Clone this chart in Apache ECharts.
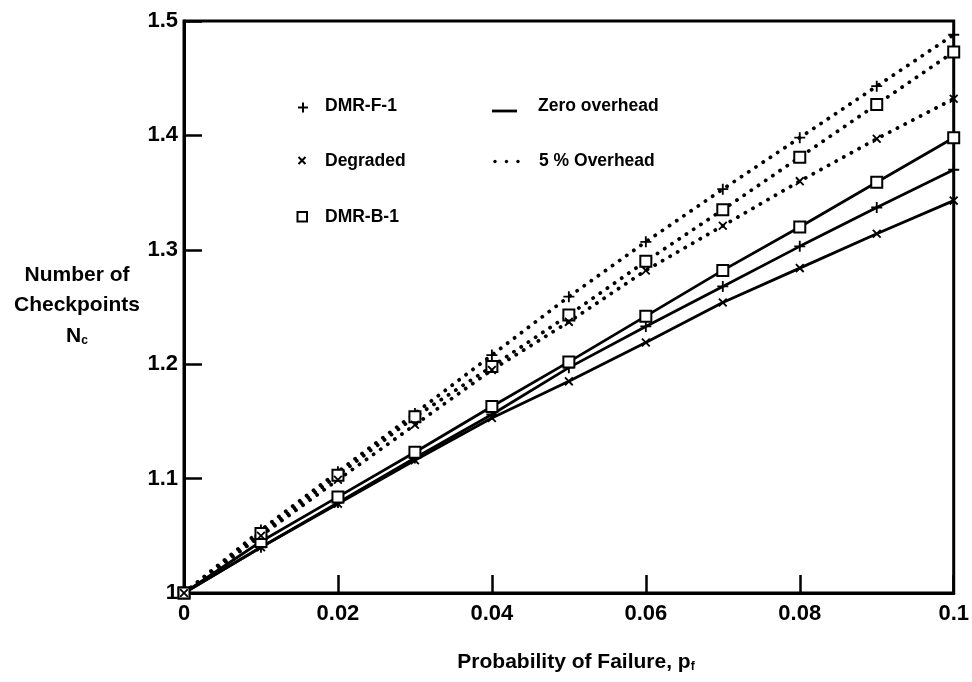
<!DOCTYPE html>
<html>
<head>
<meta charset="utf-8">
<script src="https://cdn.jsdelivr.net/npm/echarts@6/dist/echarts.min.js"></script>
<style>html,body{margin:0;padding:0;background:#fff;overflow:hidden}#c{width:972px;height:682px}</style>
</head>
<body>
<div id="c"></div>
<script>
// Probability of failure (x)
const xs = [0, 0.01, 0.02, 0.03, 0.04, 0.05, 0.06, 0.07, 0.08, 0.09, 0.1];
// Zero overhead (solid)
const fZero = [1, 1.040, 1.079, 1.118, 1.156, 1.197, 1.233, 1.268, 1.303, 1.337, 1.370];
const dZero = [1, 1.040, 1.078, 1.116, 1.153, 1.185, 1.219, 1.254, 1.284, 1.314, 1.343];
const bZero = [1, 1.045, 1.084, 1.123, 1.163, 1.202, 1.242, 1.282, 1.320, 1.359, 1.398];
// 5 % overhead (dotted)
const fFive = [1, 1.055, 1.106, 1.157, 1.208, 1.259, 1.307, 1.353, 1.398, 1.443, 1.488];
const bFive = [1, 1.052, 1.103, 1.154, 1.198, 1.243, 1.290, 1.335, 1.381, 1.427, 1.473];
const dFive = [1, 1.050, 1.099, 1.147, 1.195, 1.237, 1.282, 1.321, 1.360, 1.397, 1.432];
const xTicks = [0, 0.02, 0.04, 0.06, 0.08, 0.1];
const yTicks = [1, 1.1, 1.2, 1.3, 1.4, 1.5];

const SANS = "'Liberation Sans',Arial,sans-serif";
const PLUS = 'path://M-1,-6 L1,-6 L1,-1 L6,-1 L6,1 L1,1 L1,6 L-1,6 L-1,1 L-6,1 L-6,-1 L-1,-1 Z';

function pts(ys) { return xs.map((x, i) => [x, ys[i]]); }

function mk(name, ys, marker, dotted) {
  const s = {
    name: name, type: 'line', data: pts(ys), showSymbol: true, animation: false,
    lineStyle: dotted ? { color: '#000', width: 3.8, type: [0.1, 8.6], cap: 'round' }
                      : { color: '#000', width: 2.8 },
    itemStyle: { color: '#000' }
  };
  if (marker === 'plus') { s.symbol = PLUS; s.symbolSize = 11; }
  else if (marker === 'x') { s.symbol = PLUS; s.symbolSize = 11; s.symbolRotate = 45; }
  else { s.symbol = 'rect'; s.symbolSize = 11; s.itemStyle = { color: '#fff', borderColor: '#000', borderWidth: 2 }; }
  return s;
}

const chart = echarts.init(document.getElementById('c'), null, { renderer: 'canvas', width: 972, height: 682 });
chart.setOption({
  backgroundColor: '#fff',
  animation: false,
  grid: { left: 184, right: 12, top: 21, bottom: 89, show: true, borderColor: '#000', borderWidth: 3, backgroundColor: 'transparent' },
  xAxis: {
    type: 'value', min: 0, max: 0.1, interval: 0.02,
    axisLine: { show: true, lineStyle: { color: '#000', width: 3 } },
    axisTick: { show: true, inside: true, length: 18, lineStyle: { color: '#000', width: 2.5 } },
    splitLine: { show: false },
    axisLabel: { color: '#000', fontFamily: SANS, fontWeight: 'bold', fontSize: 22, margin: 10,
      formatter: v => { const t = xTicks.find(k => Math.abs(k - v) < 1e-9); return t === undefined ? '' : String(t); } }
  },
  yAxis: {
    type: 'value', min: 1, max: 1.5, interval: 0.1,
    axisLine: { show: true, lineStyle: { color: '#000', width: 3 } },
    axisTick: { show: true, inside: true, length: 18, lineStyle: { color: '#000', width: 2.5 } },
    splitLine: { show: false },
    axisLabel: { color: '#000', fontFamily: SANS, fontWeight: 'bold', fontSize: 22, margin: 6,
      formatter: v => { const t = yTicks.find(k => Math.abs(k - v) < 1e-9); return t === undefined ? '' : String(t); } }
  },
  series: [
    mk('DMR-F-1 zero', fZero, 'plus', false),
    mk('Degraded zero', dZero, 'x', false),
    mk('DMR-B-1 zero', bZero, 'rect', false),
    mk('DMR-F-1 5%', fFive, 'plus', true),
    mk('DMR-B-1 5%', bFive, 'rect', true),
    mk('Degraded 5%', dFive, 'x', true)
  ],
  graphic: [
    // legend markers
    { type: 'line', shape: { x1: 298, y1: 107.5, x2: 308, y2: 107.5 }, style: { stroke: '#000', lineWidth: 2 } },
    { type: 'line', shape: { x1: 303, y1: 102.5, x2: 303, y2: 112.5 }, style: { stroke: '#000', lineWidth: 2 } },
    { type: 'line', shape: { x1: 298.5, y1: 157, x2: 305.5, y2: 164 }, style: { stroke: '#000', lineWidth: 2 } },
    { type: 'line', shape: { x1: 305.5, y1: 157, x2: 298.5, y2: 164 }, style: { stroke: '#000', lineWidth: 2 } },
    { type: 'rect', shape: { x: 297.5, y: 212, width: 9.5, height: 9.5 }, style: { fill: '#fff', stroke: '#000', lineWidth: 2 } },
    { type: 'line', shape: { x1: 492, y1: 111, x2: 517, y2: 111 }, style: { stroke: '#000', lineWidth: 2.8 } },
    { type: 'circle', shape: { cx: 495, cy: 161.5, r: 1.7 }, style: { fill: '#000' } },
    { type: 'circle', shape: { cx: 506.5, cy: 161.5, r: 1.7 }, style: { fill: '#000' } },
    { type: 'circle', shape: { cx: 518, cy: 161.5, r: 1.7 }, style: { fill: '#000' } },
    // legend texts
    { type: 'text', style: { x: 325, y: 106, text: 'DMR-F-1', fill: '#000', font: 'bold 17.5px ' + SANS, textVerticalAlign: 'middle' } },
    { type: 'text', style: { x: 325, y: 161, text: 'Degraded', fill: '#000', font: 'bold 17.5px ' + SANS, textVerticalAlign: 'middle' } },
    { type: 'text', style: { x: 325, y: 217, text: 'DMR-B-1', fill: '#000', font: 'bold 17.5px ' + SANS, textVerticalAlign: 'middle' } },
    { type: 'text', style: { x: 538, y: 106, text: 'Zero overhead', fill: '#000', font: 'bold 17.5px ' + SANS, textVerticalAlign: 'middle' } },
    { type: 'text', style: { x: 539, y: 161, text: '5 % Overhead', fill: '#000', font: 'bold 17.5px ' + SANS, textVerticalAlign: 'middle' } },
    // axis titles
    { type: 'text', style: { x: 77, y: 275, text: 'Number of', fill: '#000', font: 'bold 21px ' + SANS, textAlign: 'center', textVerticalAlign: 'middle' } },
    { type: 'text', style: { x: 77, y: 305, text: 'Checkpoints', fill: '#000', font: 'bold 21px ' + SANS, textAlign: 'center', textVerticalAlign: 'middle' } },
    { type: 'text', style: { x: 77, y: 336, text: 'N{s|c}', fill: '#000', font: 'bold 21px ' + SANS, textAlign: 'center', textVerticalAlign: 'middle',
        rich: { s: { fontSize: 12, fontWeight: 'bold', fontFamily: SANS, verticalAlign: 'bottom', padding: [8, 0, 0, 0] } } } },
    { type: 'text', style: { x: 576, y: 662, text: 'Probability of Failure, p{s|f}', fill: '#000', font: 'bold 21px ' + SANS, textAlign: 'center', textVerticalAlign: 'middle',
        rich: { s: { fontSize: 12, fontWeight: 'bold', fontFamily: SANS, verticalAlign: 'bottom', padding: [8, 0, 0, 0] } } } }
  ]
});
</script>
</body>
</html>
